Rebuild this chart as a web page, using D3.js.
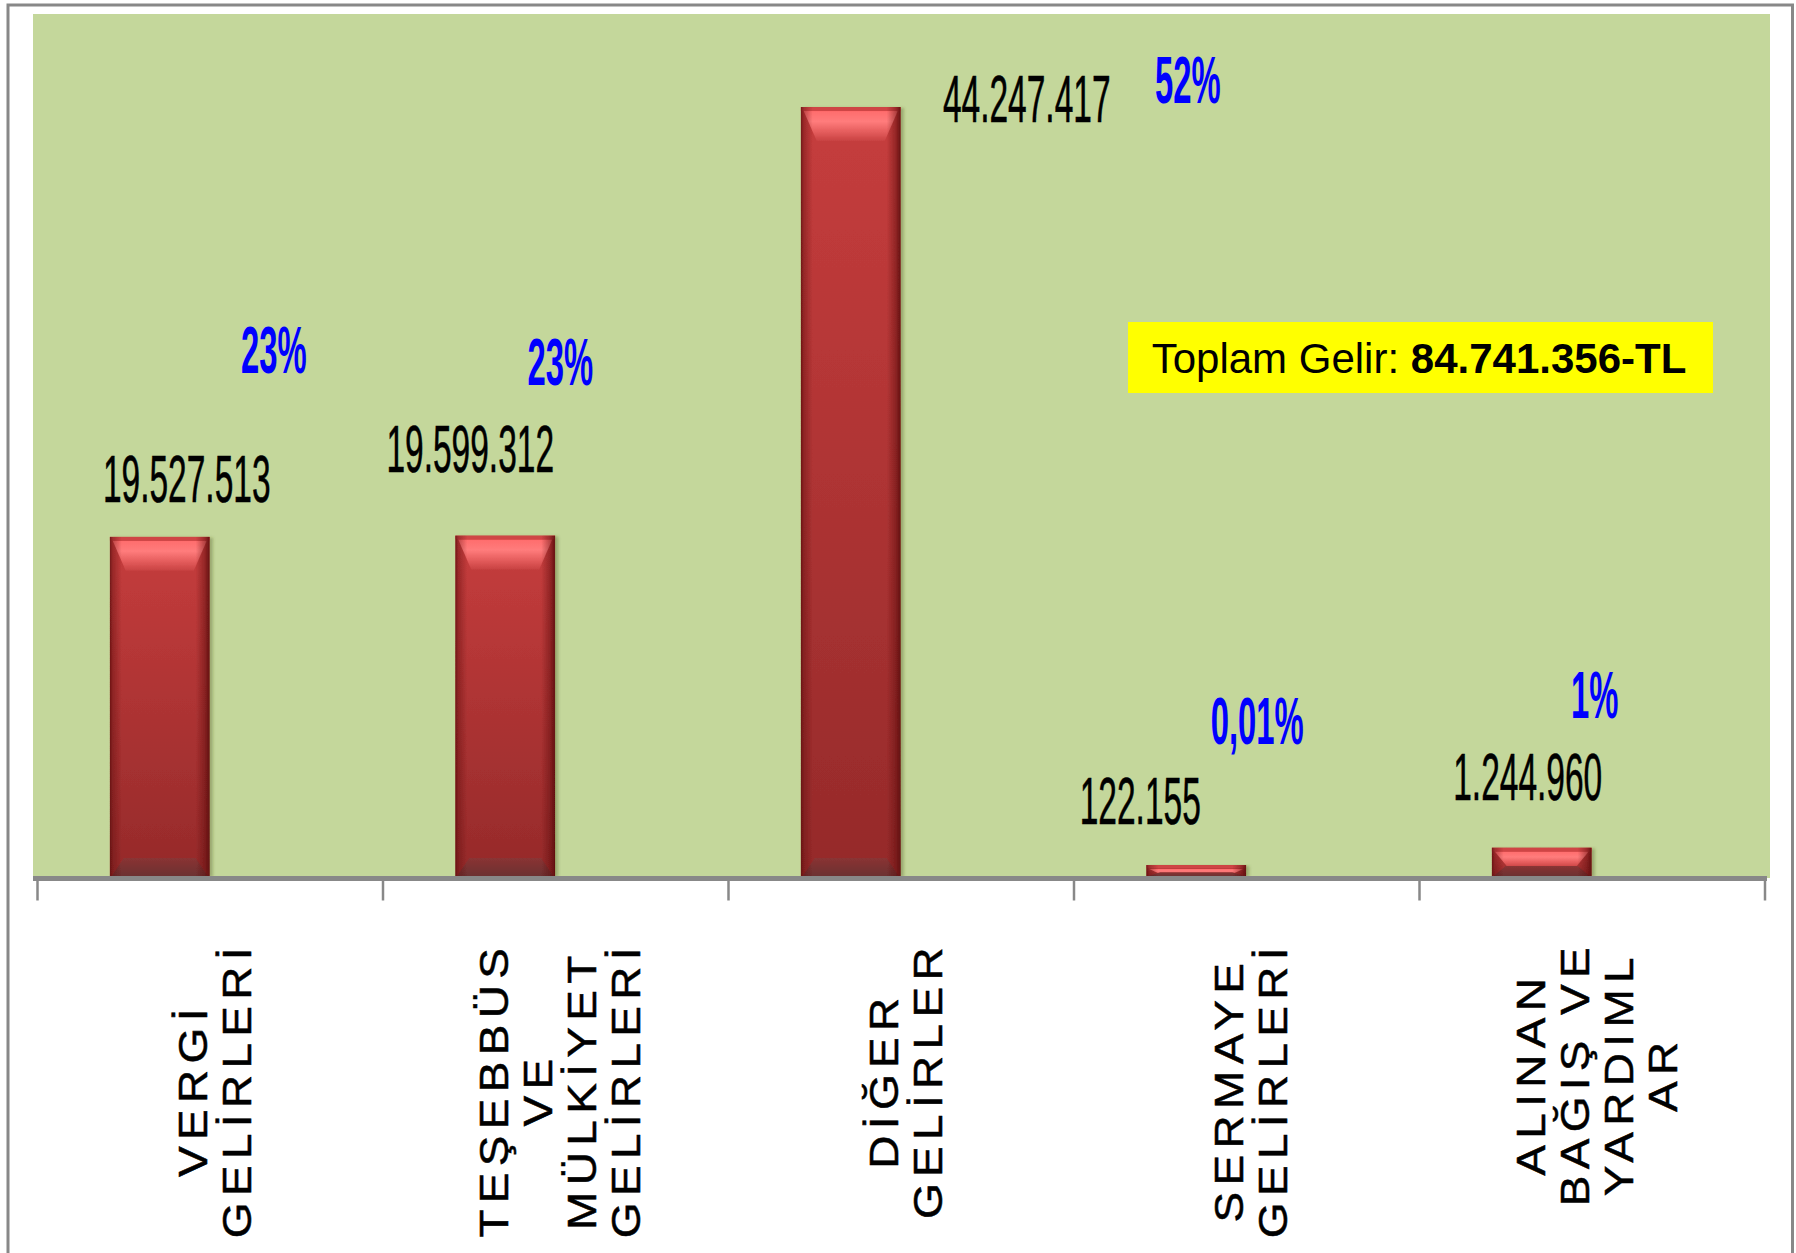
<!DOCTYPE html>
<html>
<head>
<meta charset="utf-8">
<style>
  body { margin: 0; background: #fff; }
  text { font-family: "Liberation Sans", Arial, sans-serif; }
  .cat { font-size: 40px; letter-spacing: 5.5px; fill: #000; stroke: #000; stroke-width: 0.5px; }
  .val { font-size: 67px; fill: #000; stroke: #000; stroke-width: 0.6px; }
  .pct { font-size: 67px; font-weight: bold; fill: #0000ff; }
  .total { font-size: 42px; fill: #000; }
</style>
</head>
<body>
<script src="https://d3js.org/d3.v7.min.js"></script>
<script>
  let width = 1796,
    height = 1253;

  // ---- data ----
  let categories = ["VERGİ GELİRLERİ", "TEŞEBBÜS VE MÜLKİYET GELİRLERİ", "DİĞER GELİRLER",
    "SERMAYE GELİRLERİ", "ALINAN BAĞIŞ VE YARDIMLAR"];
  // how the category names wrap under the axis
  let categoryLines = [
    ["VERGİ", "GELİRLERİ"],
    ["TEŞEBBÜS", "VE", "MÜLKİYET", "GELİRLERİ"],
    ["DİĞER", "GELİRLER"],
    ["SERMAYE", "GELİRLERİ"],
    ["ALINAN", "BAĞIŞ VE", "YARDIML", "AR"]
  ];
  let amounts = [19527513, 19599312, 44247417, 122155, 1244960];
  let shareLabels = ["23%", "23%", "52%", "0,01%", "1%"];
  let totalIncome = 84741356;
  let series = ["tutar", "oran"];   // second series only carries the % labels

  // data labels were dragged by hand in the original: offsets from bar centre / bar top
  let valueNudge = [[27, -35], [-35, -63], [176, 15], [-56, -50], [-14, -54]];
  let shareNudge = [[14, -164], [-45, -150], [237, -4], [-39, -130], [-47, -136]];

  let tr = d3.formatLocale({ decimal: ",", thousands: ".", grouping: [3], currency: ["", " TL"] });
  let fmt = tr.format(",d");

  let plot = { left: 37, right: 1764.5, top: 14, bottom: 876 };

  let x0 = d3.scaleBand().domain(categories).range([plot.left, plot.right]);
  let x1 = d3.scaleBand().domain(series).range([0, x0.bandwidth()]).paddingOuter(0.727);
  let y = d3.scaleLinear().domain([0, 49.6e6]).range([plot.bottom, plot.top]);
  let xb = d3.scaleLinear().domain([0, categories.length]).range([plot.left, plot.right]);

  let svg = d3.select("body").append("svg")
    .attr("width", width)
    .attr("height", height);

  let defs = svg.append("defs");

  let g1 = defs.append("linearGradient").attr("id", "barBody")
    .attr("x1", 0).attr("y1", 0).attr("x2", 0).attr("y2", 1);
  g1.append("stop").attr("offset", "0%").attr("stop-color", "#c63d3d");
  g1.append("stop").attr("offset", "100%").attr("stop-color", "#952a2a");

  let g2 = defs.append("linearGradient").attr("id", "barSide")
    .attr("x1", 0).attr("y1", 0).attr("x2", 1).attr("y2", 0);
  [["0%", 0.8], ["3%", 0.4], ["12%", 0], ["86%", 0], ["95%", 0.45], ["100%", 0.9]].forEach(s => {
    g2.append("stop").attr("offset", s[0]).attr("stop-color", "#5a0c0c").attr("stop-opacity", s[1]);
  });

  let g3 = defs.append("linearGradient").attr("id", "barTop")
    .attr("x1", 0).attr("y1", 0).attr("x2", 0).attr("y2", 1);
  g3.append("stop").attr("offset", "0%").attr("stop-color", "#ff6c6c");
  g3.append("stop").attr("offset", "35%").attr("stop-color", "#ff7c7c");
  g3.append("stop").attr("offset", "70%").attr("stop-color", "#e45c5c");
  g3.append("stop").attr("offset", "100%").attr("stop-color", "#c84242");

  let g4 = defs.append("linearGradient").attr("id", "barBottom")
    .attr("x1", 0).attr("y1", 0).attr("x2", 0).attr("y2", 1);
  g4.append("stop").attr("offset", "0%").attr("stop-color", "#8a3434");
  g4.append("stop").attr("offset", "100%").attr("stop-color", "#6c3030");

  let shadow = defs.append("filter").attr("id", "shadow")
    .attr("x", "-20%").attr("y", "-5%").attr("width", "140%").attr("height", "110%");
  shadow.append("feDropShadow").attr("dx", 3).attr("dy", 1).attr("stdDeviation", 1.5)
    .attr("flood-color", "#4a5520").attr("flood-opacity", 0.35);

  // outer frame
  svg.append("rect")
    .attr("x", 8).attr("y", 5)
    .attr("width", 1784.5).attr("height", 1300)
    .attr("fill", "none").attr("stroke", "#888").attr("stroke-width", 3);

  // plot area
  svg.append("rect")
    .attr("x", 33).attr("y", plot.top)
    .attr("width", 1770 - 33).attr("height", 878 - plot.top)
    .attr("fill", "#c4d79b");

  // bars
  let bevelPad = h => Math.max(0, 9 - h / 10);   // short bars keep their bevel depth

  svg.append("g").selectAll("g")
    .data(amounts)
    .join("g")
    .attr("filter", "url(#shadow)")
    .each(function (v, i) {
      let g = d3.select(this);
      let bx = x0(categories[i]) + x1("tutar");
      let w = x1.bandwidth();
      let h0 = plot.bottom - y(v);
      let h = h0 + bevelPad(h0);
      let top = plot.bottom - h;

      let clipId = "clip" + i;
      defs.append("clipPath").attr("id", clipId)
        .append("rect").attr("x", bx).attr("y", top).attr("width", w).attr("height", h);

      let inner = g.append("g").attr("clip-path", `url(#${clipId})`);
      inner.append("rect").attr("x", bx).attr("y", top).attr("width", w).attr("height", h)
        .attr("fill", "url(#barBody)");

      let td = Math.min(30, h * 0.55);
      inner.append("path")
        .attr("d", `M${bx + 3},${top + 4}H${bx + w - 3}L${bx + w - 16},${top + 4 + td}H${bx + 16}Z`)
        .attr("fill", "url(#barTop)");
      inner.append("rect").attr("x", bx).attr("y", top).attr("width", w).attr("height", Math.min(4, h * 0.3))
        .attr("fill", "#cf4545");

      let bd = Math.min(18, h * 0.35);
      inner.append("path")
        .attr("d", `M${bx + 14},${plot.bottom - bd}H${bx + w - 14}L${bx + w - 2},${plot.bottom}H${bx + 2}Z`)
        .attr("fill", "url(#barBottom)");

      inner.append("rect").attr("x", bx).attr("y", top).attr("width", w).attr("height", h)
        .attr("fill", "url(#barSide)");
    });

  // axis: ticks at category boundaries, thick grey base line
  let axis = d3.axisBottom(xb)
    .tickValues(d3.range(categories.length + 1))
    .tickFormat("")
    .tickSizeInner(22)
    .tickSizeOuter(0);

  let axisG = svg.append("g")
    .attr("transform", `translate(0,${plot.bottom + 2.5})`)
    .call(axis);
  axisG.select(".domain").remove();
  axisG.selectAll(".tick line").attr("stroke", "#888").attr("stroke-width", 2.5);
  axisG.append("line")
    .attr("x1", 33).attr("x2", 1767)
    .attr("stroke", "#888").attr("stroke-width", 5);

  // value labels
  svg.append("g").selectAll("text")
    .data(amounts)
    .join("text")
    .attr("class", "val")
    .attr("text-anchor", "middle")
    .attr("transform", (v, i) => {
      let cx = x0(categories[i]) + x1("tutar") + x1.bandwidth() / 2 + valueNudge[i][0];
      let cy = y(v) + valueNudge[i][1];
      return `translate(${cx},${cy}) scale(0.5,1)`;
    })
    .text(v => fmt(v));

  // share labels
  svg.append("g").selectAll("text")
    .data(shareLabels)
    .join("text")
    .attr("class", "pct")
    .attr("text-anchor", "middle")
    .attr("transform", (s, i) => {
      let cx = x0(categories[i]) + x1("oran") + x1.bandwidth() / 2 + shareNudge[i][0];
      let cy = y(amounts[i]) + shareNudge[i][1];
      return `translate(${cx},${cy}) scale(0.49,1)`;
    })
    .text(s => s);

  // category labels, rotated, top aligned under the axis
  let labelTop = 941,
    lineGap = 44,
    stretch = 1.15;

  svg.append("g").selectAll("g")
    .data(categoryLines)
    .join("g")
    .each(function (lines, i) {
      let g = d3.select(this);
      let cx = x0(categories[i]) + x0.bandwidth() / 2 + 5;
      let texts = g.selectAll("text")
        .data(lines)
        .join("text")
        .attr("class", "cat")
        .attr("text-anchor", "middle")
        .attr("dominant-baseline", "central")
        .text(d => d);
      let maxLen = d3.max(texts.nodes(), n => n.getComputedTextLength()) * stretch;
      let cy = labelTop + maxLen / 2;
      texts.attr("transform", (d, j) =>
        `translate(${cx + (j - (lines.length - 1) / 2) * lineGap},${cy}) rotate(-90) scale(${stretch},1)`);
    });

  // total box
  svg.append("rect")
    .attr("x", 1128).attr("y", 322)
    .attr("width", 585).attr("height", 71)
    .attr("fill", "#ffff00");

  let tot = svg.append("text")
    .attr("class", "total")
    .attr("x", 1419).attr("y", 373)
    .attr("text-anchor", "middle");
  tot.append("tspan").text("Toplam Gelir: ");
  tot.append("tspan").attr("font-weight", "bold").text(fmt(totalIncome) + "-TL");
</script>
</body>
</html>
